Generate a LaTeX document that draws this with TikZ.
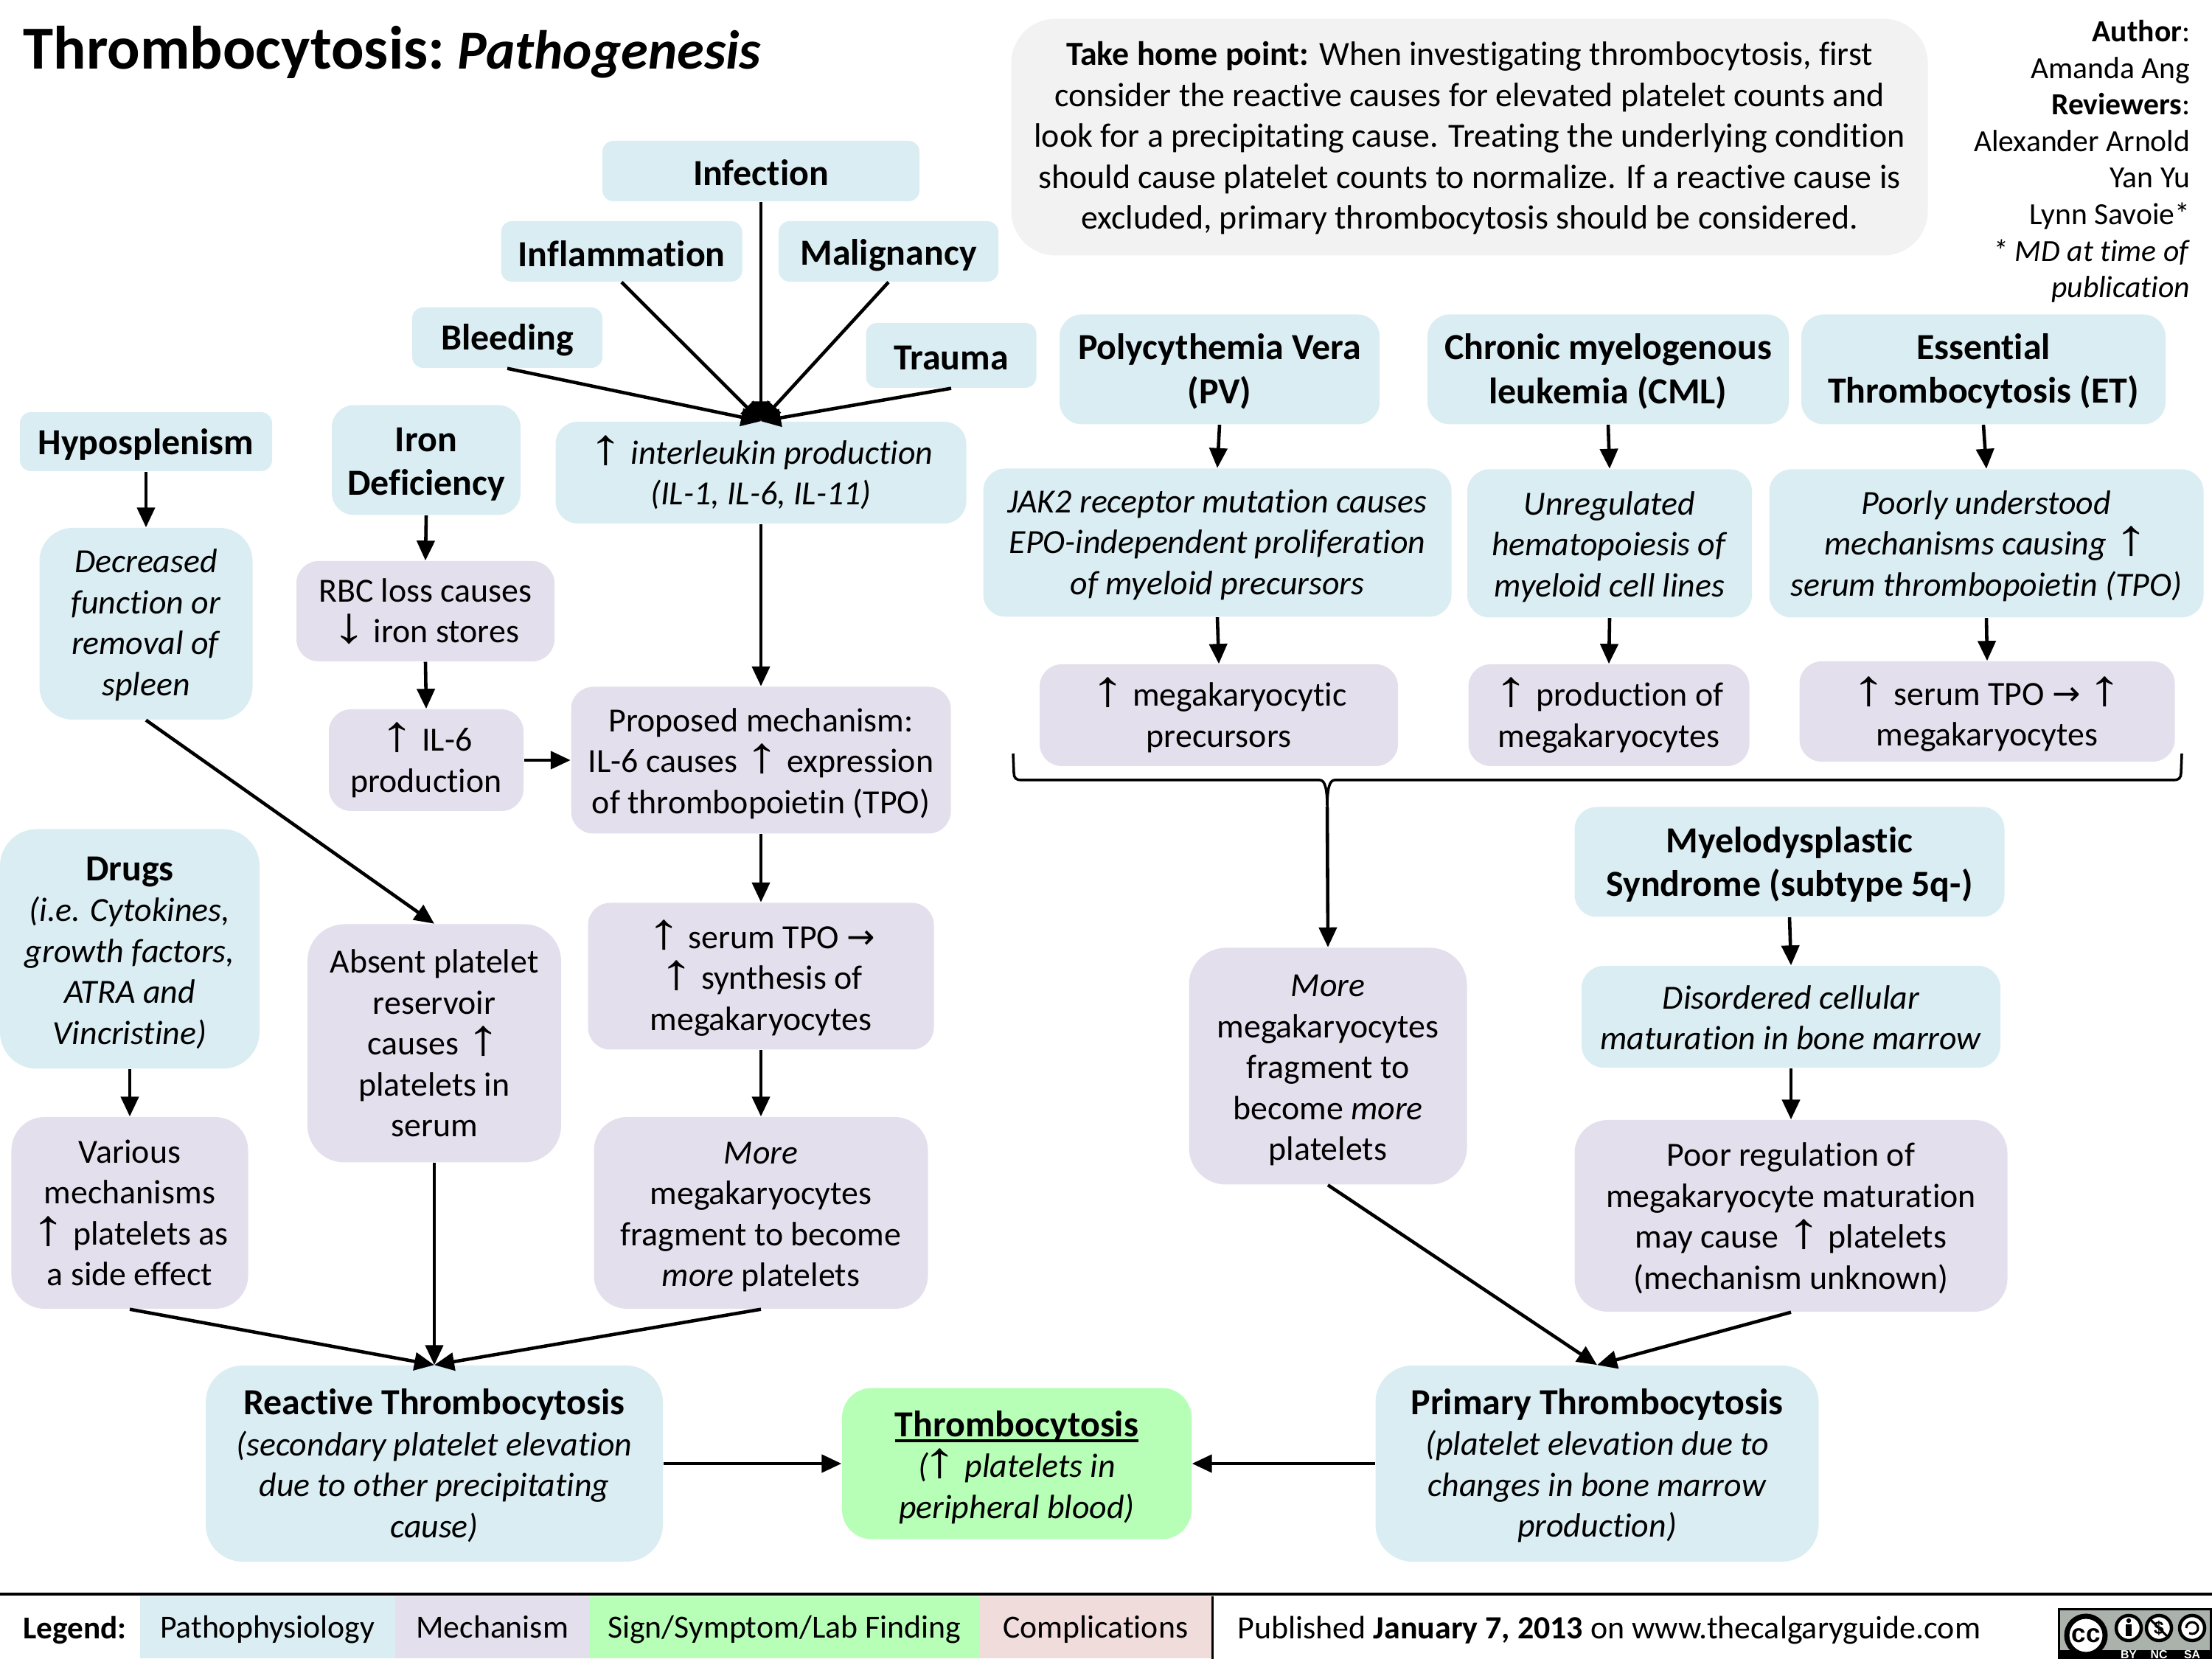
\documentclass[tikz,border=0pt]{standalone}
\usepackage{fontspec}
\usetikzlibrary{arrows.meta}
\setmainfont[Ligatures={NoCommon}]{Carlito}
\newfontfamily\arrowfont[Scale=1.5]{Liberation Sans}
\newfontfamily\rarrowfont{DejaVu Sans}
\newfontfamily\badgefont{Liberation Sans}
\newcommand{\upa}{\scalebox{1.35}[1]{\upshape\arrowfont\char"2191}}
\newcommand{\dna}{\scalebox{1.35}[1]{\upshape\arrowfont\char"2193}}
\newcommand{\rta}{{\upshape\rarrowfont\char"2192}}
\newcommand{\nudge}[1]{\rule{0pt}{#1em}}
\newsavebox{\ulbox}
\newcommand{\thickul}[1]{\sbox{\ulbox}{#1}\usebox{\ulbox}\llap{\rule[-2.2pt]{\wd\ulbox}{1.2pt}}}
\definecolor{pathoblue}{HTML}{DAEDF3}
\definecolor{mechpurple}{HTML}{E4DFEC}
\definecolor{signgreen}{HTML}{B7FFB7}
\definecolor{comppink}{HTML}{F0DCDB}
\definecolor{notegray}{HTML}{F2F2F2}
\definecolor{badgegray}{HTML}{AAB2AB}
\tikzset{
	bx/.style={rounded corners=0.3cm,align=center,inner sep=0pt,font=\fontsize{13.05}{15.8}\selectfont},
	patho/.style={bx,fill=pathoblue},
	mech/.style={bx,fill=mechpurple},
	head/.style={font=\fontsize{14.2}{16.9}\selectfont\bfseries},
	legendbox/.style={anchor=south west,minimum height=0.84cm,inner sep=0pt,text height=10.7pt,text depth=2.4pt,font=\fontsize{12.45}{15}\selectfont},
	arr/.style={line width=1.3pt,-{Triangle[length=0.27cm,width=0.24cm]}},
	badgering/.style={circle,draw=black,fill=white,line width=0.045cm,minimum size=0.34cm,inner sep=0pt}
}
\begin{document}
\begin{tikzpicture}
			\useasboundingbox (0,0) rectangle (30,22.5);
			
			% title and notes
			\node[anchor=base west,inner sep=0pt,font=\bfseries] (title) at (0.31,21.56) {\fontsize{23.6}{25}\selectfont Thrombocytosis:\hspace{5pt}\fontsize{21.2}{25}\selectfont\textit{Pathogenesis}};
			\node[bx,fill=notegray,rounded corners=0.6cm,minimum width=12.43cm,minimum height=3.21cm] (takehome) at (19.93,20.64) {\nudge{0.76}\textbf{Take home point:} When investigating thrombocytosis, first\\consider the reactive causes for elevated platelet counts and\\look for a precipitating cause. Treating the underlying condition\\should cause platelet counts to normalize. If a reactive cause is\\excluded, primary thrombocytosis should be considered.};
			\node[anchor=east,align=right,inner sep=0pt,font=\fontsize{11.85}{14.1}\selectfont] (authors) at (29.71,20.31) {\textbf{Author}:\\Amanda Ang\\\textbf{Reviewers}:\\Alexander Arnold\\Yan Yu\\Lynn Savoie*\\\textit{* MD at time of}\\\textit{publication}};
			
			% causes at the top
			\node[patho,head,rounded corners=0.15cm,minimum width=4.30cm,minimum height=0.82cm] (infection) at (10.32,20.18) {\nudge{0.78}Infection};
			\node[patho,head,rounded corners=0.15cm,minimum width=3.27cm,minimum height=0.82cm] (inflammation) at (8.43,19.09) {\nudge{0.85}Inflammation};
			\node[patho,head,rounded corners=0.15cm,minimum width=2.98cm,minimum height=0.82cm] (malignancy) at (12.05,19.09) {\nudge{0.92}Malignancy};
			\node[patho,head,rounded corners=0.15cm,minimum width=2.58cm,minimum height=0.82cm] (bleeding) at (6.88,17.92) {\nudge{0.85}Bleeding};
			\node[patho,head,rounded corners=0.15cm,minimum width=2.31cm,minimum height=0.88cm] (trauma) at (12.90,17.68) {\nudge{0.78}Trauma};
			\node[patho,head,rounded corners=0.15cm,minimum width=3.42cm,minimum height=0.80cm] (hyposplenism) at (1.98,16.51) {\nudge{0.85}Hyposplenism};
			\node[patho,head,minimum width=2.56cm,minimum height=1.49cm] (iron) at (5.78,16.26) {\nudge{0.87}Iron\\Deficiency};
			\node[patho,minimum width=5.57cm,minimum height=1.38cm] (interleukin) at (10.32,16.09) {\upa{} \textit{interleukin production}\\\textit{(IL-1, IL-6, IL-11)}};
			
			% left columns
			\node[patho,minimum width=2.89cm,minimum height=2.60cm,rounded corners=0.45cm] (decreased) at (1.98,14.04) {\nudge{0.78}\textit{Decreased}\\\textit{function or}\\\textit{removal of}\\\textit{spleen}};
			\node[mech,minimum width=3.50cm,minimum height=1.36cm] (rbcloss) at (5.77,14.21) {RBC loss causes\\\dna{} iron stores};
			\node[mech,minimum width=2.64cm,minimum height=1.38cm] (ilsix) at (5.78,12.19) {\upa{} IL-6\\production};
			\node[mech,minimum width=5.15cm,minimum height=1.99cm] (proposed) at (10.32,12.19) {\nudge{0.90}Proposed mechanism:\\IL-6 causes \upa{} expression\\of thrombopoietin (TPO)};
			\node[patho,minimum width=3.52cm,minimum height=3.25cm,rounded corners=0.5cm] (drugs) at (1.76,9.63) {\nudge{0.94}{\fontsize{14.2}{16.9}\selectfont\textbf{Drugs}}\\\textit{(i.e. Cytokines,}\\\textit{growth factors,}\\\textit{ATRA and}\\\textit{Vincristine)}};
			\node[mech,minimum width=3.44cm,minimum height=3.23cm,rounded corners=0.5cm] (absent) at (5.89,8.35) {Absent platelet\\reservoir\\causes \upa{}\\platelets in\\serum};
			\node[mech,minimum width=4.69cm,minimum height=1.99cm] (serumtpo) at (10.32,9.26) {\nudge{0.95}\upa{} serum TPO \rta{}\\\upa{} synthesis of\\megakaryocytes};
			\node[mech,minimum width=4.53cm,minimum height=2.60cm,rounded corners=0.45cm] (moreleft) at (10.32,6.05) {\nudge{0.89}\textit{More}\\megakaryocytes\\fragment to become\\\textit{more} platelets};
			\node[mech,minimum width=3.21cm,minimum height=2.60cm,rounded corners=0.45cm] (various) at (1.76,6.05) {Various\\mechanisms\\\upa{} platelets as\\a side effect};
			
			% bottom row
			\node[patho,minimum width=6.20cm,minimum height=2.66cm,rounded corners=0.5cm] (reactive) at (5.89,2.65) {\nudge{0.88}{\fontsize{14.2}{16.9}\selectfont\textbf{Reactive Thrombocytosis}}\\\textit{(secondary platelet elevation}\\\textit{due to other precipitating}\\\textit{cause)}};
			\node[bx,fill=signgreen,minimum width=4.74cm,minimum height=2.05cm,rounded corners=0.4cm] (thrombo) at (13.79,2.65) {\nudge{0.97}{\fontsize{14.2}{16.9}\selectfont\thickul{\textbf{Thrombocytosis}}}\\\textit{(\kern-2pt\upa{} platelets in}\\\textit{peripheral blood)}};
			\node[patho,minimum width=6.01cm,minimum height=2.66cm,rounded corners=0.5cm] (primary) at (21.66,2.65) {\nudge{0.88}{\fontsize{14.2}{16.9}\selectfont\textbf{Primary Thrombocytosis}}\\\textit{(platelet elevation due to}\\\textit{changes in bone marrow}\\\textit{production)}};
			
			% primary causes
			\node[patho,head,minimum width=4.34cm,minimum height=1.49cm] (pv) at (16.54,17.49) {\nudge{0.81}Polycythemia Vera\\(PV)};
			\node[patho,head,minimum width=4.90cm,minimum height=1.49cm] (cml) at (21.81,17.49) {\nudge{0.81}Chronic myelogenous\\leukemia (CML)};
			\node[patho,head,minimum width=4.94cm,minimum height=1.49cm] (et) at (26.90,17.49) {\nudge{0.81}Essential\\Thrombocytosis (ET)};
			\node[patho,minimum width=6.35cm,minimum height=2.01cm] (jak) at (16.51,15.14) {\nudge{0.81}\textit{JAK2 receptor mutation causes}\\\textit{EPO-independent proliferation}\\\textit{of myeloid precursors}};
			\node[patho,minimum width=3.86cm,minimum height=2.01cm] (unreg) at (21.83,15.13) {\nudge{0.90}\textit{Unregulated}\\\textit{hematopoiesis of}\\\textit{myeloid cell lines}};
			\node[patho,minimum width=5.89cm,minimum height=2.01cm] (poorly) at (26.94,15.13) {\nudge{0.86}\textit{Poorly understood}\\\textit{mechanisms causing} \upa{}\\\textit{serum thrombopoietin (TPO)}};
			\node[mech,minimum width=4.86cm,minimum height=1.38cm] (megaprec) at (16.53,12.80) {\upa{} megakaryocytic\\precursors};
			\node[mech,minimum width=3.81cm,minimum height=1.38cm] (megaprod) at (21.82,12.80) {\upa{} production of\\megakaryocytes};
			\node[mech,minimum width=5.09cm,minimum height=1.36cm] (megaet) at (26.95,12.85) {\nudge{1.0}\upa{} serum TPO \rta{} \upa{}\\megakaryocytes};
			\node[mech,minimum width=3.77cm,minimum height=3.21cm,rounded corners=0.5cm] (moreright) at (18.01,8.04) {\nudge{0.89}\textit{More}\\megakaryocytes\\fragment to\\become \textit{more}\\platelets};
			\node[patho,head,minimum width=5.83cm,minimum height=1.49cm] (myelo) at (24.27,10.81) {\nudge{0.85}Myelodysplastic\\Syndrome (subtype 5q-)};
			\node[patho,minimum width=5.68cm,minimum height=1.38cm] (disordered) at (24.29,8.71) {\nudge{0.74}\textit{Disordered cellular}\\\textit{maturation in bone marrow}};
			\node[mech,minimum width=5.87cm,minimum height=2.60cm,rounded corners=0.45cm] (poorreg) at (24.29,6.01) {\nudge{0.84}Poor regulation of\\megakaryocyte maturation\\may cause \upa{} platelets\\(mechanism unknown)};
			
			% brace
			\coordinate (bracetip) at (18.00,11.55);
			\draw[line width=1pt] (13.74,12.28) -- (13.75,12.02) .. controls (13.75,11.95) and (13.78,11.92) .. (13.85,11.92) -- (17.90,11.92) .. controls (17.97,11.92) and (18.00,11.8) .. (bracetip) .. controls (18.00,11.8) and (18.03,11.92) .. (18.10,11.92) -- (29.48,11.92) .. controls (29.55,11.92) and (29.58,11.95) .. (29.58,12.02) -- (29.59,12.28);
			
			% connectors
			\foreach \a in {infection,inflammation,malignancy,bleeding,trauma}
			\draw[arr] (\a.south) -- (interleukin.north);
			\foreach \a/\b in {hyposplenism/decreased,decreased/absent,iron/rbcloss,rbcloss/ilsix,interleukin/proposed,proposed/serumtpo,serumtpo/moreleft,drugs/various,pv/jak,jak/megaprec,cml/unreg,unreg/megaprod,et/poorly,poorly/megaet,myelo/disordered,disordered/poorreg}
			\draw[arr] (\a.south) -- (\b.north);
			\foreach \a in {various,absent,moreleft}
			\draw[arr] (\a.south) -- (reactive.north);
			\foreach \a in {moreright,poorreg}
			\draw[arr] (\a.south) -- (primary.north);
			\draw[arr] (bracetip) -- (moreright.north);
			\draw[arr] (ilsix.east) -- (proposed.west);
			\draw[arr] (reactive.east) -- (thrombo.west);
			\draw[arr] (primary.west) -- (thrombo.east);
			
			% legend
			\fill (0,0.86) rectangle (30,0.90);
			\node[anchor=west,inner sep=0pt,font=\fontsize{12.3}{15}\selectfont\bfseries] (legend) at (0.31,0.39) {Legend:};
			\node[legendbox,fill=pathoblue,minimum width=3.46cm] (lgpatho) at (1.89,0) {Pathophysiology};
			\node[legendbox,fill=mechpurple,minimum width=2.64cm] (lgmech) at (5.35,0) {Mechanism};
			\node[legendbox,fill=signgreen,minimum width=5.28cm] (lgsign) at (7.99,0) {Sign/Symptom/Lab Finding};
			\node[legendbox,fill=comppink,minimum width=3.16cm] (lgcomp) at (13.27,0) {Complications};
			\draw[line width=0.8pt] (lgcomp.north east) -- (lgcomp.south east);
			\node[anchor=west,inner sep=0pt,font=\fontsize{12.5}{15}\selectfont] (published) at (16.78,0.39) {Published \textbf{January 7, 2013} on www.thecalgaryguide.com};
			
			% licence badge
			\draw[line width=0.03cm,fill=badgegray] (27.92,-0.05) rectangle (29.98,0.67);
			\fill (27.92,0) rectangle (29.98,0.12);
			\node[badgering,line width=0.07cm,minimum size=0.52cm,font=\badgefont\fontsize{10}{10}\selectfont\bfseries] (ccring) at (28.29,0.32) {cc};
			\node[badgering] (byring) at (28.87,0.42) {};
			\node[badgering,font=\badgefont\fontsize{7}{7}\selectfont\bfseries] (ncring) at (29.28,0.42) {\$};
			\node[badgering] (saring) at (29.73,0.42) {};
			\fill (byring.center) ++(0,0.10) circle (0.032);
			\fill (byring.center) ++(-0.04,-0.11) rectangle ++(0.08,0.16);
			\draw[line width=0.03cm] (ncring.north west) -- (ncring.south east);
			\draw[line width=0.03cm] (saring.center) ++(-0.08,0) arc (180:-120:0.08);
			\foreach \lab/\labx in {BY/28.87,NC/29.28,SA/29.73}
			\node[text=white,inner sep=0pt,font=\badgefont\fontsize{4.5}{5}\selectfont\bfseries] (badge\lab) at (\labx,0.055) {\lab};
\end{tikzpicture}
\end{document}
